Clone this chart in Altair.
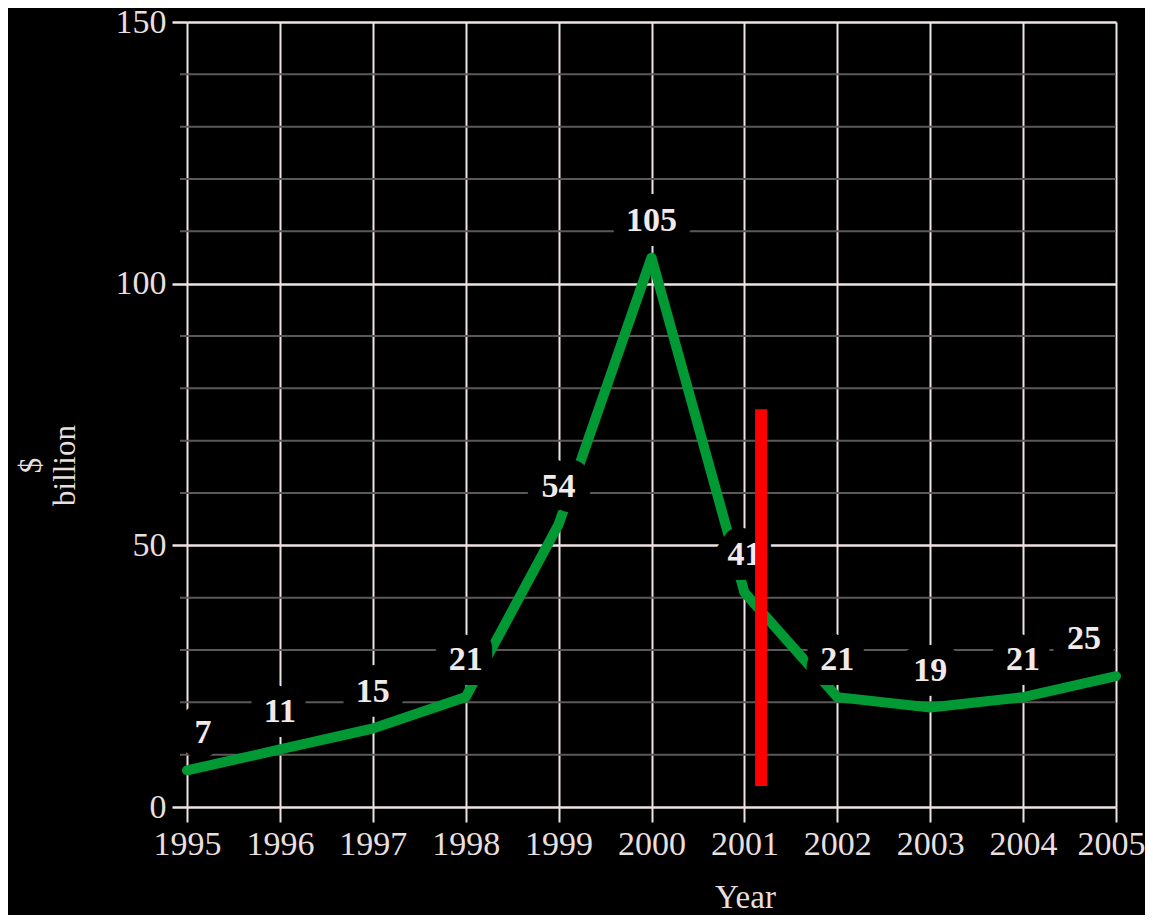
import altair as alt
import pandas as pd

years = [1995, 1996, 1997, 1998, 1999, 2000, 2001, 2002, 2003, 2004, 2005]
values = [7, 11, 15, 21, 54, 105, 41, 21, 19, 21, 25]

major_ticks = [0, 50, 100, 150]
minor_ticks = [10, 20, 30, 40, 60, 70, 80, 90, 110, 120, 130, 140]

marker_year = [2001.18]
marker_low = [4]
marker_high = [76]

df = pd.DataFrame({"Year": years, "Value": values})
minor_df = pd.DataFrame({"v": minor_ticks})
marker_df = pd.DataFrame({"Year": marker_year, "lo": marker_low, "hi": marker_high})

W, H = 929, 785
FONT = "Liberation Serif"
LIGHT = "#efe4e4"
TXT = "#e8dfdf"

xscale = alt.Scale(domain=[1995, 2005], nice=False, zero=False)
yscale = alt.Scale(domain=[0, 150], nice=False)

xaxis = alt.Axis(values=years, format="d", grid=True, gridColor=LIGHT, gridWidth=2,
                 gridOpacity=1, tickSize=15, tickColor=LIGHT, tickWidth=2,
                 domain=False, labelFont=FONT, labelFontSize=34, labelColor=TXT,
                 labelPadding=5, labelFlush=False,
                 labelOffset=alt.ExprRef("datum.value == 2005 ? -5 : 0"),
                 title="Year", titleFont=FONT,
                 titleFontSize=33, titleFontWeight="normal", titleColor=TXT,
                 titleX=558, titleY=90, titleBaseline="middle", titleAlign="center")
yaxis = alt.Axis(values=major_ticks, grid=True, gridColor=LIGHT, gridWidth=2.5,
                 gridOpacity=1, tickSize=15, tickColor=LIGHT, tickWidth=2.5,
                 domain=False, labelFont=FONT, labelFontSize=34, labelColor=TXT,
                 labelPadding=6, labelFlush=False, title=["$", "billion"], titleFont=FONT,
                 titleFontSize=31, titleFontWeight="normal", titleColor=TXT,
                 titleAngle=-90, titleX=-156, titleY=443, titleBaseline="middle",
                 titleAlign="center", titleLineHeight=34)

minor = alt.Chart(minor_df).mark_rule(color="#5c5858", strokeWidth=2).encode(
    y=alt.Y("v:Q", scale=yscale, axis=yaxis),
    x=alt.value(-7), x2=alt.value(W),
)

base = alt.Chart(df)
line = base.mark_line(color="#009933", strokeWidth=10, strokeCap="round",
                      strokeJoin="round").encode(
    x=alt.X("Year:Q", scale=xscale, axis=xaxis),
    y=alt.Y("Value:Q", scale=yscale),
)


def labels(sub, dx):
    halo = sub.mark_text(font=FONT, fontSize=34, fontWeight="bold", dy=-37, dx=dx,
                         baseline="middle", fill="black", stroke="black",
                         strokeWidth=30, strokeJoin="round").encode(
        x="Year:Q", y="Value:Q", text="Value:Q")
    txt = sub.mark_text(font=FONT, fontSize=34, fontWeight="bold", dy=-37, dx=dx,
                        baseline="middle", color="#f2eaea").encode(
        x="Year:Q", y="Value:Q", text="Value:Q")
    return halo, txt


h0, t0 = labels(base.transform_filter("datum.Year == 1995"), 16)
h1, t1 = labels(base.transform_filter("datum.Year > 1995 && datum.Year < 2005"), 0)
h2, t2 = labels(base.transform_filter("datum.Year == 2005"), -32)

marker = alt.Chart(marker_df).mark_rule(color="#ff0000", strokeWidth=12).encode(
    x="Year:Q", y="lo:Q", y2="hi:Q")

chart = alt.layer(minor, line, h0, h1, h2, t0, t1, t2, marker).properties(
    width=W, height=H, background="black",
    autosize=alt.AutoSizeParams(type="none"),
    padding={"left": 179, "top": 14, "right": 29, "bottom": 108},
).configure_view(stroke=None)

chart.save("out.html", embed_options={"renderer": "svg", "actions": False})
